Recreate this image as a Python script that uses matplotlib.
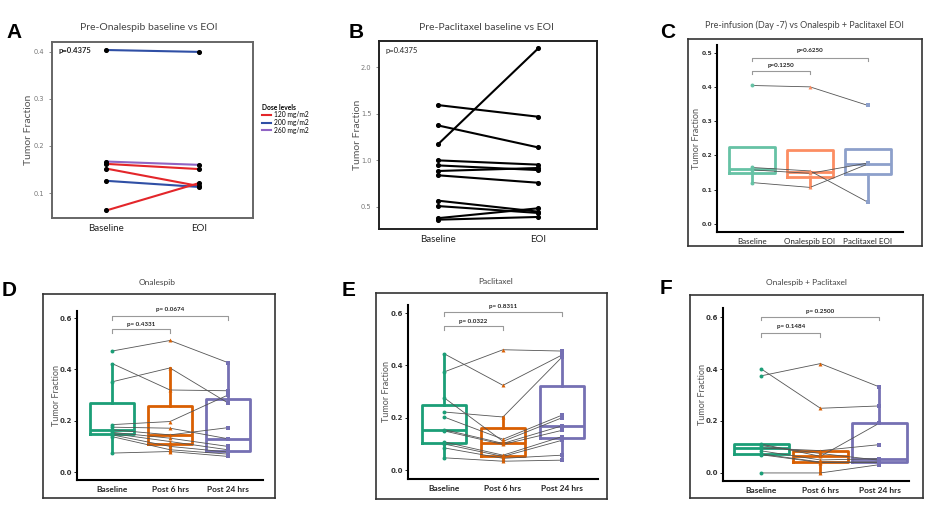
import numpy as np
import matplotlib
matplotlib.use("Agg")
import matplotlib.pyplot as plt
from matplotlib.lines import Line2D

plt.rcParams["font.family"] = ["Lato", "DejaVu Sans"]

W, H = 948, 520

# ---- A: Onalespib baseline vs EOI, by dose level ----
A_GROUPS = ["Baseline", "EOI"]
A_BASELINE = [0.404, 0.167, 0.162, 0.152, 0.126, 0.063]
A_EOI = [0.400, 0.160, 0.151, 0.115, 0.113, 0.121]
A_DOSE = ["200 mg/m2", "260 mg/m2", "120 mg/m2", "120 mg/m2", "200 mg/m2", "120 mg/m2"]
DOSE_LEVELS = ["120 mg/m2", "200 mg/m2", "260 mg/m2"]
DOSE_COLORS = ["#e3262a", "#2f4fa5", "#9064c4"]

# ---- B: Paclitaxel baseline vs EOI ----
B_GROUPS = ["Baseline", "EOI"]
B_BASELINE = [1.171, 1.593, 1.375, 1.000, 0.946, 0.886, 0.840, 0.568, 0.510, 0.380, 0.364]
B_EOI = [2.200, 1.468, 1.139, 0.954, 0.896, 0.918, 0.760, 0.450, 0.436, 0.486, 0.393]

# ---- C: pre-infusion vs EOI ----
C_GROUPS = ["Baseline", "Onalespib EOI", "Paclitaxel EOI"]
C_BASELINE = [0.404, 0.165, 0.158, 0.121]
C_ONALESPIB = [0.400, 0.155, 0.148, 0.107]
C_PACLITAXEL = [0.346, 0.064, 0.178, 0.175]
C_PVALS = ["p=0.1250", "p=0.6250"]

# ---- D/E/F: time courses ----
T_GROUPS = ["Baseline", "Post 6 hrs", "Post 24 hrs"]

D_BASELINE = [0.472, 0.423, 0.352, 0.185, 0.175, 0.165, 0.155, 0.150, 0.145, 0.138, 0.074]
D_POST6 = [0.513, 0.320, 0.406, 0.197, 0.171, 0.145, 0.132, 0.119, 0.100, 0.087, 0.080]
D_POST24 = [0.427, 0.317, 0.270, 0.300, 0.130, 0.173, 0.100, 0.087, 0.078, 0.070, 0.061]
D_PVALS = ["p= 0.4331", "p= 0.0674"]

E_BASELINE = [0.375, 0.445, 0.277, 0.222, 0.203, 0.155, 0.150, 0.108, 0.100, 0.085, 0.047]
E_POST6 = [0.460, 0.324, 0.110, 0.203, 0.118, 0.102, 0.098, 0.057, 0.052, 0.045, 0.034]
E_POST24 = [0.455, 0.440, 0.200, 0.432, 0.210, 0.169, 0.152, 0.128, 0.114, 0.057, 0.038]
E_PVALS = ["p= 0.0322", "p= 0.8311"]

F_BASELINE = [0.400, 0.374, 0.111, 0.105, 0.096, 0.085, 0.073, 0.070, 0.000]
F_POST6 = [0.249, 0.421, 0.064, 0.075, 0.086, 0.050, 0.042, 0.040, 0.000]
F_POST24 = [0.258, 0.331, 0.192, 0.049, 0.109, 0.055, 0.042, 0.040, 0.032]
F_PVALS = ["p= 0.1484", "p= 0.2500"]

SET2 = ["#66c2a5", "#fc8d62", "#8da0cb"]
DARK2 = ["#1b9e77", "#d95f02", "#7570b3"]
MARKERS = ["o", "^", "s"]
NUM_FONT = ["DejaVu Sans"]


def px_rect(x0, y0, x1, y1):
    return [x0 / W, 1 - y1 / H, (x1 - x0) / W, (y1 - y0) / H]


def ftext(fig, x, y, s, **kw):
    fig.text(x / W, 1 - y / H, s, **kw)


def paired_panel(fig, rect, groups, base, eoi, colors, ylim, yticks, ptext,
                 pbold, spine_col, ylab_x):
    ax = fig.add_axes(px_rect(*rect))
    for b, e, c in zip(base, eoi, colors):
        ax.plot([1, 2], [b, e], color=c, lw=1.5, zorder=2)
    ax.scatter([1] * len(base), base, s=7, color="black", zorder=3)
    ax.scatter([2] * len(eoi), eoi, s=7, color="black", zorder=3)
    ax.set_xlim(0.413, 2.587)
    ax.set_ylim(*ylim)
    ax.set_xticks([1, 2], groups)
    ax.set_yticks(yticks)
    ax.tick_params(axis="y", labelsize=4.8, colors="#777", length=2, width=0.6)
    ax.tick_params(axis="x", labelsize=7, labelcolor="#222", length=0, pad=4)
    for lab in ax.get_yticklabels():
        lab.set_family(NUM_FONT)
    for sp in ax.spines.values():
        sp.set_color(spine_col)
        sp.set_linewidth(1.4)
    ax.text(0.03, 0.97, ptext, transform=ax.transAxes, fontsize=5.5,
            fontweight="bold" if pbold else "normal", va="top", color="#222")
    ax.set_ylabel("Tumor Fraction", fontsize=7.5, color="#555")
    ax.yaxis.set_label_coords(ylab_x, 0.5)
    return ax


def box_panel(fig, frame, rect, groups, series, palette, width, ylim, yticks,
              pvals, brackets, xlim=(-0.61, 2.61), ytick_fs=5, xtick_fs=6,
              xbold=True):
    fr = fig.add_axes(px_rect(*frame))
    fr.set_xticks([])
    fr.set_yticks([])
    fr.patch.set_alpha(0)
    for sp in fr.spines.values():
        sp.set_color("#333")
        sp.set_linewidth(1.2)

    ax = fig.add_axes(px_rect(*rect))
    ax.patch.set_alpha(0)
    pos = np.arange(len(groups))
    bp = ax.boxplot(series, positions=pos, widths=width, showfliers=False,
                    showcaps=False, whis=1.5, manage_ticks=False)
    for i, c in enumerate(palette):
        bp["boxes"][i].set(color=c, linewidth=2.0)
        bp["medians"][i].set(color=c, linewidth=2.0)
        for wk in bp["whiskers"][2 * i:2 * i + 2]:
            wk.set(color=c, linewidth=2.0)

    for j in range(len(series[0])):
        ax.plot(pos, [s[j] for s in series], color="#555", lw=0.6, zorder=3)
    for i, c in enumerate(palette):
        ax.scatter([pos[i]] * len(series[i]), series[i], marker=MARKERS[i],
                   s=8, color=c, zorder=4, linewidths=0)

    for (i0, i1, y, dy, ty), lab in zip(brackets, pvals):
        ax.plot([i0, i0, i1, i1], [y - dy, y, y, y - dy], color="#999", lw=0.8,
                clip_on=False)
        ax.text((i0 + i1) / 2, ty, lab, ha="center", va="center", fontsize=4.5,
                fontweight="bold", color="#222", clip_on=False)

    ax.set_xlim(*xlim)
    ax.set_ylim(*ylim)
    ax.set_xticks(pos, groups)
    ax.set_yticks(yticks)
    ax.tick_params(axis="y", labelsize=ytick_fs, length=2, width=0.6,
                   labelcolor="#333", pad=1.5)
    ax.tick_params(axis="x", labelsize=xtick_fs, length=0, pad=4,
                   labelcolor="#222")
    for lab in ax.get_yticklabels():
        lab.set_fontweight("bold")
        lab.set_family(NUM_FONT)
    if xbold:
        for lab in ax.get_xticklabels():
            lab.set_fontweight("bold")
    for k in ("top", "right"):
        ax.spines[k].set_visible(False)
    for k in ("left", "bottom"):
        ax.spines[k].set_linewidth(1.5)
        ax.spines[k].set_color("black")
    ax.set_ylabel("Tumor Fraction", fontsize=6.5, color="#555")
    ax.yaxis.set_label_coords(-0.088, 0.5)
    return ax


fig = plt.figure(figsize=(W / 100, H / 100), dpi=100)

# A
dose_col = dict(zip(DOSE_LEVELS, DOSE_COLORS))
axA = paired_panel(fig, (52, 42, 253, 218), A_GROUPS, A_BASELINE, A_EOI,
                   [dose_col[d] for d in A_DOSE], (0.047, 0.421),
                   [0.1, 0.2, 0.3, 0.4], "p=0.4375", True, "#666", -0.095)
handles = [Line2D([], [], color=c, lw=1.5) for c in DOSE_COLORS]
leg = axA.legend(handles, DOSE_LEVELS, title="Dose levels", loc="upper left",
                 bbox_to_anchor=(1.03, 0.665), frameon=False, fontsize=4.8,
                 title_fontsize=4.8, handlelength=1.4, labelspacing=0.1,
                 borderaxespad=0, handletextpad=0.5)
leg.get_title().set_fontweight("bold")
leg._legend_box.align = "left"

# B
paired_panel(fig, (379, 41, 597, 229), B_GROUPS, B_BASELINE, B_EOI,
             ["black"] * len(B_BASELINE), (0.264, 2.28),
             [0.5, 1.0, 1.5, 2.0], "p=0.4375", False, "#222", -0.078)

# C
box_panel(fig, (688, 39, 922, 246), (717, 45, 903, 232), C_GROUPS,
          [C_BASELINE, C_ONALESPIB, C_PACLITAXEL], SET2, 0.8,
          (-0.023, 0.522), [0.0, 0.1, 0.2, 0.3, 0.4, 0.5], C_PVALS,
          [(0, 1, 0.446, 0.009, 0.461), (0, 2, 0.485, 0.009, 0.505)],
          ytick_fs=4.3, xtick_fs=5.8, xbold=False)

# D
box_panel(fig, (43, 294, 275, 498), (77, 311, 263, 480), T_GROUPS,
          [D_BASELINE, D_POST6, D_POST24], DARK2, 0.76,
          (-0.031, 0.628), [0.0, 0.2, 0.4, 0.6], D_PVALS,
          [(0, 1, 0.556, 0.015, 0.577), (0, 2, 0.610, 0.018, 0.634)])

# E
box_panel(fig, (376, 293, 607, 499), (408, 305, 598, 479), T_GROUPS,
          [E_BASELINE, E_POST6, E_POST24], DARK2, 0.76,
          (-0.034, 0.631), [0.0, 0.2, 0.4, 0.6], E_PVALS,
          [(0, 1, 0.550, 0.015, 0.568), (0, 2, 0.604, 0.015, 0.627)])

# F
box_panel(fig, (690, 295, 923, 498), (723, 308, 909, 481), T_GROUPS,
          [F_BASELINE, F_POST6, F_POST24], DARK2, 0.92,
          (-0.031, 0.635), [0.0, 0.2, 0.4, 0.6], F_PVALS,
          [(0, 1, 0.539, 0.015, 0.564), (0, 2, 0.600, 0.013, 0.620)],
          xlim=(-0.65, 2.5))

# titles and panel letters
titles = [(149, 27, "Pre-Onalespib baseline vs EOI", 7.5),
          (486, 28, "Pre-Paclitaxel baseline vs EOI", 7.5),
          (804, 25, "Pre-infusion (Day -7) vs Onalespib + Paclitaxel EOI", 6.5),
          (157, 282, "Onalespib", 6),
          (496, 281, "Paclitaxel", 6),
          (806, 283, "Onalespib + Paclitaxel", 6)]
for x, y, s, fs in titles:
    ftext(fig, x, y, s, ha="center", va="center", fontsize=fs, color="#444")

letters = [(14, 33, "A"), (356, 33, "B"), (668, 33, "C"),
           (9, 290, "D"), (349, 291, "E"), (666, 289, "F")]
for x, y, s in letters:
    ftext(fig, x, y, s, ha="center", va="center", fontsize=15,
          fontweight="bold", family=["Liberation Sans", "DejaVu Sans"])

fig.savefig("out.png", dpi=100)
